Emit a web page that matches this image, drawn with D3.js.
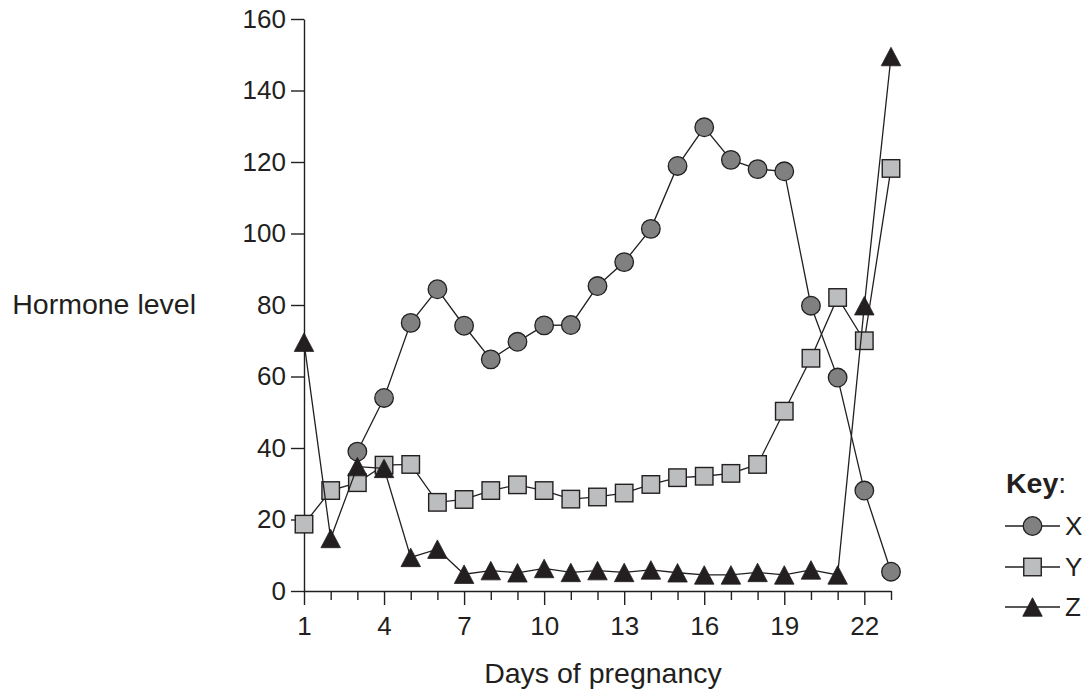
<!DOCTYPE html>
<html>
<head>
<meta charset="utf-8">
<script src="https://cdn.jsdelivr.net/npm/d3@7"></script>
<style>
  html, body { margin: 0; padding: 0; background: #fff; }
  svg { display: block; }
  text { font-family: "Liberation Sans", Arial, sans-serif; fill: #231f20; }
</style>
</head>
<body>
<svg id="chart" width="1091" height="691"></svg>
<script>
const days = d3.range(1, 24);
const yTicks = [0, 20, 40, 60, 80, 100, 120, 140, 160];
const xLabelDays = [1, 4, 7, 10, 13, 16, 19, 22];
const seriesNames = ["X", "Y", "Z"];
const seriesX = [null, null, 39, 54, 75, 84.4, 74.2, 64.8, 69.7, 74.3, 74.4, 85.3, 92, 101.3, 118.9, 129.7, 120.6, 118, 117.4, 79.8, 59.7, 28.1, 5.4];
const seriesY = [18.7, 28.1, 30.3, 35.2, 35.4, 24.8, 25.6, 28.1, 29.7, 28.1, 25.7, 26.3, 27.4, 29.8, 31.7, 32.1, 32.9, 35.4, 50.3, 65.1, 82.1, 70, 118.2];
const seriesZ = [69.6, 14.7, 34.8, 34.3, 9.4, 11.7, 4.7, 5.7, 5.1, 6.3, 5.2, 5.7, 5.2, 5.9, 5.1, 4.5, 4.5, 5.2, 4.5, 5.9, 4.5, 79.8, 149.5];

const ink = "#231f20";
const svg = d3.select("#chart");
const x = d3.scaleLinear().domain([1, 23]).range([304, 891]);
const y = d3.scaleLinear().domain([0, 160]).range([591, 19]);

// Y axis
const gy = svg.append("g").attr("transform", `translate(${x(1)},0)`)
  .call(d3.axisLeft(y).tickValues(yTicks).tickSize(13).tickSizeOuter(0).tickPadding(5));
gy.selectAll("path, line").attr("stroke", ink).attr("stroke-width", 1.4);
gy.selectAll("text").attr("font-size", 26).attr("fill", ink)
  .style("font-family", '"Liberation Sans", Arial, sans-serif');

// X axis
const gx = svg.append("g").attr("transform", `translate(0,${y(0)})`)
  .call(d3.axisBottom(x).tickValues(days).tickSize(14).tickSizeOuter(0).tickPadding(12)
    .tickFormat(d => xLabelDays.includes(d) ? d : ""));
gx.selectAll("path, line").attr("stroke", ink).attr("stroke-width", 1.4);
gx.selectAll(".tick").filter(d => !xLabelDays.includes(d)).select("line").attr("y2", 9);
gx.selectAll("text").attr("font-size", 26).attr("fill", ink)
  .style("font-family", '"Liberation Sans", Arial, sans-serif');

// Axis titles
svg.append("text").attr("x", 603).attr("y", 683).attr("text-anchor", "middle")
  .attr("font-size", 28.5).text("Days of pregnancy");
svg.append("text").attr("x", 196).attr("y", 314).attr("text-anchor", "end")
  .attr("font-size", 28.5).text("Hormone level");

// Marker drawing
const markerStyles = {
  X: { fill: "#808080", shape: "circle" },
  Y: { fill: "#bcbdbf", shape: "square" },
  Z: { fill: ink, shape: "triangle" }
};
function drawMarker(g, shape, fill, cx, cy) {
  if (shape === "circle") {
    g.append("circle").attr("cx", cx).attr("cy", cy).attr("r", 9.3)
      .attr("fill", fill).attr("stroke", ink).attr("stroke-width", 1.3);
  } else if (shape === "square") {
    const s = 17.5;
    g.append("rect").attr("x", cx - s / 2).attr("y", cy - s / 2).attr("width", s).attr("height", s)
      .attr("fill", fill).attr("stroke", ink).attr("stroke-width", 1.4);
  } else {
    const w = 19.5, h = 18.5;
    g.append("path")
      .attr("d", `M${cx},${cy - h / 2}L${cx + w / 2},${cy + h / 2}L${cx - w / 2},${cy + h / 2}Z`)
      .attr("fill", fill).attr("stroke", ink).attr("stroke-width", 0.8);
  }
}

const seriesData = { X: seriesX, Y: seriesY, Z: seriesZ };
const line = d3.line().defined(d => d.v != null).x(d => x(d.day)).y(d => y(d.v));

seriesNames.forEach(name => {
  const pts = days.map((day, i) => ({ day, v: seriesData[name][i] }));
  const g = svg.append("g");
  g.append("path").datum(pts).attr("d", line).attr("fill", "none")
    .attr("stroke", ink).attr("stroke-width", 1.3);
  pts.filter(p => p.v != null).forEach(p =>
    drawMarker(g, markerStyles[name].shape, markerStyles[name].fill, x(p.day), y(p.v)));
});

// Legend
const key = svg.append("text").attr("x", 1006).attr("y", 493).attr("font-size", 28.5);
key.append("tspan").attr("font-weight", "bold").text("Key");
key.append("tspan").text(":");
const legendRows = [526, 567, 607];
seriesNames.forEach((name, i) => {
  const ly = legendRows[i];
  const g = svg.append("g");
  g.append("line").attr("x1", 1005).attr("x2", 1060).attr("y1", ly).attr("y2", ly)
    .attr("stroke", ink).attr("stroke-width", 1.3);
  drawMarker(g, markerStyles[name].shape, markerStyles[name].fill, 1032.5, ly);
  g.append("text").attr("x", 1065).attr("y", ly).attr("dy", "0.33em")
    .attr("font-size", 26).text(name);
});
</script>
</body>
</html>
